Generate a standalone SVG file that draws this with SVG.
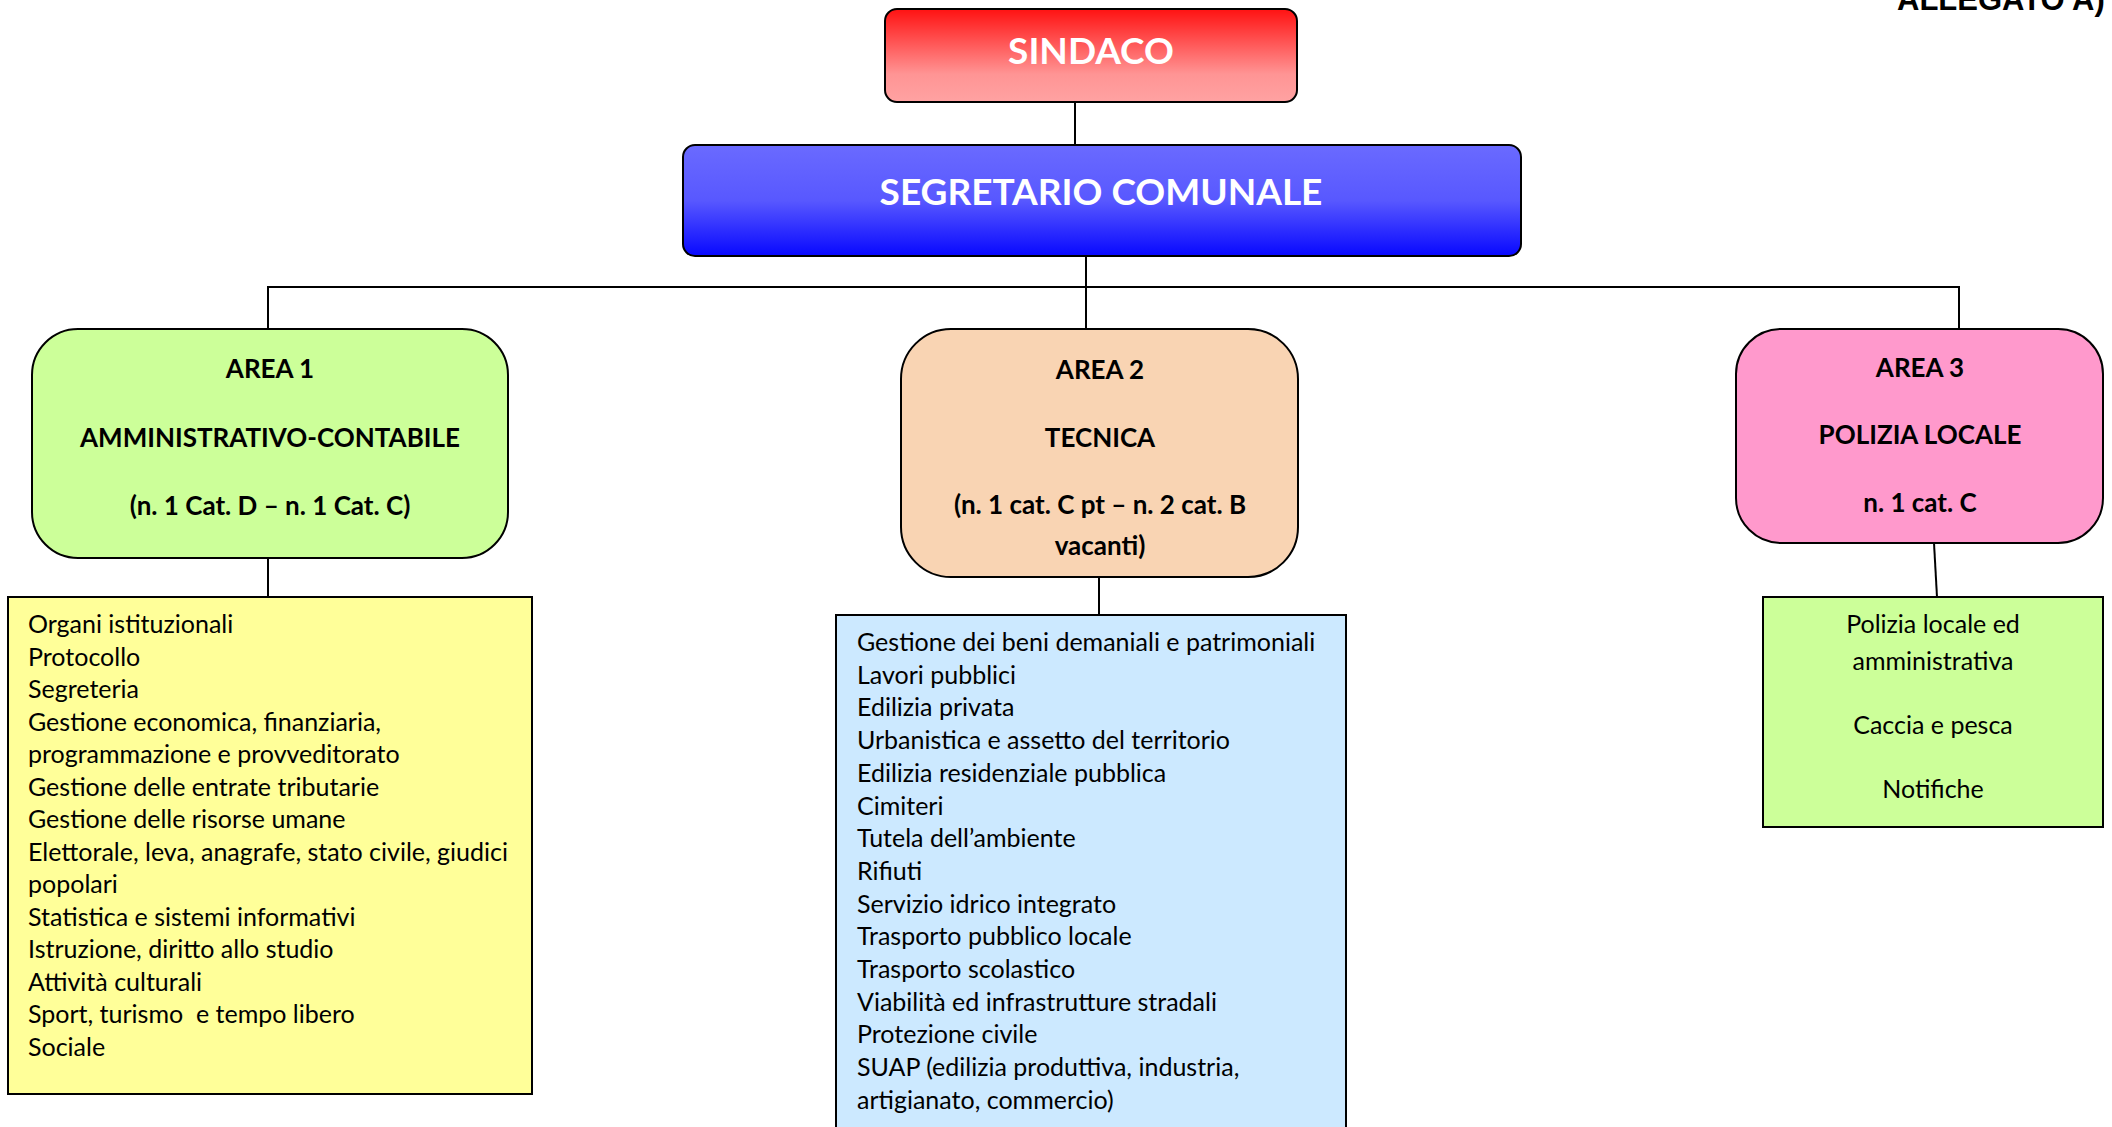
<svg xmlns="http://www.w3.org/2000/svg" width="2112" height="1127" viewBox="0 0 2112 1127">
<defs>
<linearGradient id="gRed" x1="0" y1="0" x2="0" y2="1">
<stop offset="0" stop-color="#ff1212"/>
<stop offset="0.7" stop-color="#ff9494"/>
<stop offset="1" stop-color="#ffa2a2"/>
</linearGradient>
<linearGradient id="gBlue" x1="0" y1="0" x2="0" y2="1">
<stop offset="0" stop-color="#6a6aff"/>
<stop offset="0.5" stop-color="#5858ff"/>
<stop offset="1" stop-color="#0808ff"/>
</linearGradient>
<style>
.box{stroke:#000;stroke-width:2}
.conn line{stroke:#000;stroke-width:2}
.hw{font-family:Lato,"Open Sans",sans-serif;font-weight:bold;fill:#fff;font-size:37px;text-anchor:middle}
.hd{font-family:Lato,"Open Sans",sans-serif;font-weight:bold;fill:#000;font-size:26px;text-anchor:middle}
.tx{font-family:Lato,"Open Sans",sans-serif;fill:#000;font-size:25px}
.tc{font-family:Lato,"Open Sans",sans-serif;fill:#000;font-size:25px;text-anchor:middle}
</style>
</defs>
<rect width="2112" height="1127" fill="#fff"/>
<text x="1897" y="10" font-family="Liberation Sans,Arial,sans-serif" font-weight="bold" font-size="31" fill="#000">ALLEGATO A)</text>
<g id="connectors" class="conn">
<line x1="1075" y1="102" x2="1075" y2="145"/>
<line x1="1086" y1="256" x2="1086" y2="287"/>
<line x1="267" y1="287" x2="1960" y2="287"/>
<line x1="268" y1="287" x2="268" y2="329"/>
<line x1="1086" y1="287" x2="1086" y2="329"/>
<line x1="1959" y1="287" x2="1959" y2="329"/>
<line x1="268" y1="558" x2="268" y2="597"/>
<line x1="1099" y1="577" x2="1099" y2="615"/>
<line x1="1934" y1="543" x2="1937" y2="597"/>
</g>
<g id="sindaco">
<rect class="box" x="885" y="9" width="412" height="93" rx="12" fill="url(#gRed)"/>
<text class="hw" x="1091" y="64">SINDACO</text>
</g>
<g id="segretario">
<rect class="box" x="683" y="145" width="838" height="111" rx="12" fill="url(#gBlue)"/>
<text class="hw" x="1101" y="205">SEGRETARIO COMUNALE</text>
</g>
<g id="area1">
<rect class="box" x="32" y="329" width="476" height="229" rx="46" fill="#ccff99"/>
<text class="hd" x="270" y="378">AREA 1</text>
<text class="hd" x="270" y="447">AMMINISTRATIVO-CONTABILE</text>
<text class="hd" x="270" y="515">(n. 1 Cat. D – n. 1 Cat. C)</text>
</g>
<g id="area2">
<rect class="box" x="901" y="329" width="397" height="248" rx="50" fill="#f9d4b3"/>
<text class="hd" x="1100" y="379">AREA 2</text>
<text class="hd" x="1100" y="447">TECNICA</text>
<text class="hd" x="1100" y="514">(n. 1 cat. C pt – n. 2 cat. B</text>
<text class="hd" x="1100" y="555">vacanti)</text>
</g>
<g id="area3">
<rect class="box" x="1736" y="329" width="367" height="214" rx="45" fill="#ff99cc"/>
<text class="hd" x="1920" y="377">AREA 3</text>
<text class="hd" x="1920" y="444">POLIZIA LOCALE</text>
<text class="hd" x="1920" y="512">n. 1 cat. C</text>
</g>
<g id="list1">
<rect class="box" x="8" y="597" width="524" height="497" fill="#ffff99"/>
<text class="tx" xml:space="preserve">
<tspan x="28" y="633">Organi istituzionali</tspan>
<tspan x="28" y="665.5">Protocollo</tspan>
<tspan x="28" y="698">Segreteria</tspan>
<tspan x="28" y="730.5">Gestione economica, finanziaria,</tspan>
<tspan x="28" y="763">programmazione e provveditorato</tspan>
<tspan x="28" y="795.5">Gestione delle entrate tributarie</tspan>
<tspan x="28" y="828">Gestione delle risorse umane</tspan>
<tspan x="28" y="860.5">Elettorale, leva, anagrafe, stato civile, giudici</tspan>
<tspan x="28" y="893">popolari</tspan>
<tspan x="28" y="925.5">Statistica e sistemi informativi</tspan>
<tspan x="28" y="958">Istruzione, diritto allo studio</tspan>
<tspan x="28" y="990.5">Attività culturali</tspan>
<tspan x="28" y="1023">Sport, turismo  e tempo libero</tspan>
<tspan x="28" y="1055.5">Sociale</tspan>
</text>
</g>
<g id="list2">
<rect class="box" x="836" y="615" width="510" height="530" fill="#cce9ff"/>
<text class="tx">
<tspan x="857" y="651">Gestione dei beni demaniali e patrimoniali</tspan>
<tspan x="857" y="683.7">Lavori pubblici</tspan>
<tspan x="857" y="716.4">Edilizia privata</tspan>
<tspan x="857" y="749.1">Urbanistica e assetto del territorio</tspan>
<tspan x="857" y="781.8">Edilizia residenziale pubblica</tspan>
<tspan x="857" y="814.5">Cimiteri</tspan>
<tspan x="857" y="847.2">Tutela dell’ambiente</tspan>
<tspan x="857" y="879.9">Rifiuti</tspan>
<tspan x="857" y="912.6">Servizio idrico integrato</tspan>
<tspan x="857" y="945.3">Trasporto pubblico locale</tspan>
<tspan x="857" y="978">Trasporto scolastico</tspan>
<tspan x="857" y="1010.7">Viabilità ed infrastrutture stradali</tspan>
<tspan x="857" y="1043.4">Protezione civile</tspan>
<tspan x="857" y="1076.1">SUAP (edilizia produttiva, industria,</tspan>
<tspan x="857" y="1108.8">artigianato, commercio)</tspan>
</text>
</g>
<g id="list3">
<rect class="box" x="1763" y="597" width="340" height="230" fill="#ccff99"/>
<text class="tc" x="1933" y="633">Polizia locale ed</text>
<text class="tc" x="1933" y="670">amministrativa</text>
<text class="tc" x="1933" y="734">Caccia e pesca</text>
<text class="tc" x="1933" y="798">Notifiche</text>
</g>
</svg>
